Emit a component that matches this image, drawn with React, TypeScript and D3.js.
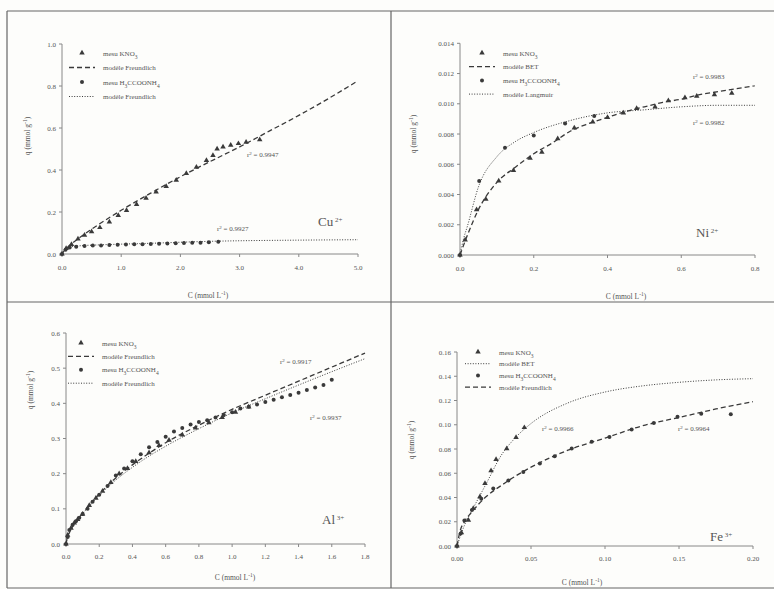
import * as d3 from "d3";
import React from "react";

type Pt = [number, number];

// ---- Cu2+ ----
const cuKno3: Pt[] = [[0,0],[0.07,0.027],[0.16,0.046],[0.27,0.072],[0.38,0.09],[0.5,0.106],[0.64,0.126],[0.8,0.153],[0.95,0.184],[1.09,0.208],[1.26,0.236],[1.42,0.266],[1.59,0.296],[1.76,0.322],[1.93,0.352],[2.1,0.384],[2.27,0.414],[2.44,0.446],[2.55,0.47],[2.62,0.5],[2.72,0.51],[2.85,0.518],[2.98,0.526],[3.11,0.532],[3.34,0.544]];
const cuKno3Model: Pt[] = [[0,0],[0.05,0.02],[0.1,0.034],[0.25,0.068],[0.5,0.118],[1,0.208],[1.5,0.29],[2,0.368],[2.5,0.44],[3,0.51],[3.5,0.585],[4,0.66],[4.5,0.74],[5,0.825]];
const cuAcet: Pt[] = [[0,0],[0.06,0.02],[0.13,0.031],[0.24,0.035],[0.38,0.038],[0.52,0.04],[0.66,0.041],[0.8,0.043],[0.94,0.044],[1.08,0.045],[1.22,0.046],[1.36,0.047],[1.5,0.048],[1.64,0.049],[1.78,0.05],[1.92,0.051],[2.06,0.052],[2.2,0.053],[2.34,0.054],[2.48,0.056],[2.64,0.058]];
const cuAcetModel: Pt[] = [[0,0],[0.05,0.022],[0.15,0.034],[0.3,0.039],[0.6,0.043],[1,0.047],[1.5,0.051],[2,0.056],[2.6,0.061],[3,0.063],[4,0.066],[5,0.068]];
const cuXTicks = [0, 1, 2, 3, 4, 5];
const cuYTicks = [0, 0.2, 0.4, 0.6, 0.8, 1.0];

// ---- Ni2+ ----
const niKno3: Pt[] = [[0,0],[0.014,0.001],[0.045,0.003],[0.07,0.0037],[0.105,0.0049],[0.145,0.0056],[0.19,0.0064],[0.222,0.0068],[0.265,0.0077],[0.31,0.0084],[0.36,0.0088],[0.4,0.0091],[0.443,0.0094],[0.479,0.0097],[0.529,0.0098],[0.565,0.0102],[0.61,0.0104],[0.642,0.0105],[0.69,0.0106],[0.737,0.0107]];
const niKno3Model: Pt[] = [[0,0],[0.02,0.0013],[0.05,0.003],[0.1,0.0048],[0.15,0.0058],[0.2,0.0067],[0.25,0.0074],[0.3,0.0082],[0.35,0.0087],[0.4,0.0091],[0.45,0.0095],[0.5,0.0098],[0.55,0.0101],[0.6,0.0103],[0.65,0.0106],[0.7,0.0108],[0.75,0.011],[0.8,0.0112]];
const niAcet: Pt[] = [[0,0],[0.052,0.0049],[0.122,0.0071],[0.2,0.0079],[0.285,0.0087],[0.364,0.0092]];
const niAcetModel: Pt[] = [[0,0],[0.01,0.0011],[0.02,0.0019],[0.05,0.0045],[0.1,0.0065],[0.15,0.0075],[0.2,0.0081],[0.3,0.0089],[0.4,0.0094],[0.5,0.0096],[0.6,0.0098],[0.7,0.0099],[0.8,0.0099]];
const niXTicks = [0, 0.2, 0.4, 0.6, 0.8];
const niYTicks = [0, 0.002, 0.004, 0.006, 0.008, 0.01, 0.012, 0.014];

// ---- Al3+ ----
const alKno3: Pt[] = [[0,0],[0.01,0.025],[0.03,0.045],[0.05,0.06],[0.07,0.07],[0.1,0.085],[0.14,0.11],[0.18,0.13],[0.22,0.15],[0.27,0.175],[0.32,0.2],[0.37,0.215],[0.42,0.235],[0.5,0.26],[0.56,0.28],[0.62,0.295],[0.7,0.31],[0.78,0.33],[0.86,0.345],[0.94,0.36],[1.02,0.375],[1.1,0.39]];
const alKno3Model: Pt[] = [[0,0],[0.01,0.022],[0.02,0.032],[0.05,0.058],[0.1,0.088],[0.2,0.142],[0.3,0.188],[0.4,0.225],[0.5,0.258],[0.6,0.288],[0.8,0.338],[1,0.383],[1.2,0.423],[1.4,0.463],[1.6,0.503],[1.8,0.543]];
const alAcet: Pt[] = [[0,0],[0.01,0.02],[0.02,0.04],[0.04,0.055],[0.06,0.065],[0.08,0.075],[0.1,0.085],[0.13,0.1],[0.16,0.12],[0.2,0.14],[0.25,0.165],[0.3,0.195],[0.35,0.215],[0.4,0.235],[0.45,0.255],[0.5,0.275],[0.55,0.29],[0.6,0.305],[0.65,0.32],[0.7,0.33],[0.75,0.34],[0.8,0.347],[0.85,0.352],[0.9,0.36],[0.95,0.367],[1.0,0.375],[1.05,0.385],[1.1,0.39],[1.15,0.397],[1.2,0.404],[1.25,0.41],[1.3,0.417],[1.35,0.424],[1.4,0.43],[1.45,0.438],[1.5,0.445],[1.55,0.452],[1.6,0.467]];
const alAcetModel: Pt[] = [[0,0],[0.01,0.022],[0.02,0.032],[0.05,0.057],[0.1,0.086],[0.2,0.138],[0.3,0.182],[0.4,0.218],[0.5,0.25],[0.6,0.278],[0.8,0.328],[1,0.373],[1.2,0.413],[1.4,0.452],[1.6,0.49],[1.8,0.527]];
const alXTicks = [0, 0.2, 0.4, 0.6, 0.8, 1.0, 1.2, 1.4, 1.6, 1.8];
const alYTicks = [0, 0.1, 0.2, 0.3, 0.4, 0.5, 0.6];

// ---- Fe3+ ----
const feKno3: Pt[] = [[0,0],[0.003,0.011],[0.0077,0.0214],[0.011,0.031],[0.0155,0.0407],[0.0189,0.0517],[0.023,0.0621],[0.0264,0.0715],[0.0336,0.0803],[0.0399,0.0896],[0.0455,0.0977]];
const feKno3Model: Pt[] = [[0,0],[0.005,0.017],[0.01,0.029],[0.02,0.052],[0.03,0.075],[0.04,0.09],[0.05,0.101],[0.075,0.118],[0.1,0.127],[0.125,0.132],[0.15,0.135],[0.175,0.137],[0.2,0.138]];
const feAcet: Pt[] = [[0,0],[0.0025,0.0104],[0.005,0.021],[0.0101,0.0296],[0.0164,0.039],[0.0245,0.0475],[0.0347,0.054],[0.0448,0.061],[0.056,0.068],[0.066,0.074],[0.0775,0.0805],[0.091,0.086],[0.103,0.09],[0.118,0.096],[0.133,0.1015],[0.149,0.1065],[0.165,0.109],[0.185,0.1086]];
const feAcetModel: Pt[] = [[0,0],[0.002,0.012],[0.005,0.02],[0.01,0.028],[0.02,0.041],[0.03,0.05],[0.04,0.058],[0.05,0.065],[0.075,0.079],[0.1,0.089],[0.125,0.099],[0.15,0.106],[0.175,0.113],[0.2,0.119]];
const feXTicks = [0, 0.05, 0.1, 0.15, 0.2];
const feYTicks = [0, 0.02, 0.04, 0.06, 0.08, 0.1, 0.12, 0.14, 0.16];

type Kind = "tri" | "circle" | "dash" | "dot";

const FONT = "'Liberation Serif', 'DejaVu Serif', serif";
const INK = "#3a3a3a";
const TXT = "#555";

const kno3 = <tspan>mesu KNO<tspan baselineShift="sub" fontSize={5.5}>3</tspan></tspan>;
const acet = <tspan>mesu H<tspan baselineShift="sub" fontSize={5.5}>3</tspan>CCOONH<tspan baselineShift="sub" fontSize={5.5}>4</tspan></tspan>;

function Marker({ kind, x, y }: { kind: Kind; x: number; y: number }) {
  if (kind === "tri") {
    const p = d3.symbol(d3.symbolTriangle, 13)();
    return <path d={p ?? ""} transform={`translate(${x},${y})`} fill={INK} />;
  }
  return <circle cx={x} cy={y} r={2} fill={INK} />;
}

function Swatch({ kind, x, y }: { kind: Kind; x: number; y: number }) {
  if (kind === "dash" || kind === "dot") {
    return (
      <line x1={x - 13} x2={x + 13} y1={y} y2={y} stroke={INK}
        strokeWidth={kind === "dash" ? 1.3 : 1}
        strokeDasharray={kind === "dash" ? "5,3" : "1,1.6"} />
    );
  }
  return <Marker kind={kind} x={x} y={y} />;
}

interface PanelProps {
  px: [number, number];
  py: [number, number];
  xDomain: [number, number];
  yDomain: [number, number];
  xTicks: number[];
  yTicks: number[];
  xFmt: (v: number) => string;
  yFmt: (v: number) => string;
  series: { pts: Pt[]; kind: Kind }[];
  legend: { label: React.ReactNode; kind: Kind }[];
  legendAt: [number, number, number];
  ion: [string, string, number, number];
  notes: [string, number, number][];
  xTitle: [number, number];
  yTitle: [number, number];
  xLabelDy: number;
}

function Panel(p: PanelProps) {
  const x = d3.scaleLinear().domain(p.xDomain).range(p.px);
  const y = d3.scaleLinear().domain(p.yDomain).range(p.py);
  const line = d3.line<Pt>().x(d => x(d[0])).y(d => y(d[1])).curve(d3.curveMonotoneX);
  const [lx, ly, lg] = p.legendAt;
  return (
    <g fontFamily={FONT} fill={TXT}>
      {/* axes */}
      <line x1={x.range()[0]} x2={x.range()[1]} y1={y(0)} y2={y(0)} stroke="#888" />
      <line x1={x(0)} x2={x(0)} y1={y.range()[0]} y2={y.range()[1]} stroke="#888" />
      {p.yTicks.map(t => (
        <g key={"y" + t}>
          <line x1={x(0) - 3} x2={x(0)} y1={y(t)} y2={y(t)} stroke="#888" />
          <text x={x(0) - 6} y={y(t) + 2.5} fontSize={7} textAnchor="end">{p.yFmt(t)}</text>
        </g>
      ))}
      {p.xTicks.map(t => (
        <g key={"x" + t}>
          <line x1={x(t)} x2={x(t)} y1={y(0)} y2={y(0) + 3} stroke="#888" />
          <text x={x(t)} y={y(0) + p.xLabelDy} fontSize={7} textAnchor="middle">{p.xFmt(t)}</text>
        </g>
      ))}
      <text x={p.xTitle[0]} y={p.xTitle[1]} fontSize={7.5} textAnchor="middle">
        C (mmol L<tspan baselineShift="super" fontSize={5.5}>-1</tspan>)
      </text>
      <text transform={`translate(${p.yTitle[0]},${p.yTitle[1]}) rotate(-90)`} fontSize={7.5} textAnchor="middle">
        q (mmol g<tspan baselineShift="super" fontSize={5.5}>-1</tspan>)
      </text>

      {/* model curves */}
      {p.series.filter(s => s.kind === "dash" || s.kind === "dot").map((s, i) => (
        <path key={"l" + i} d={line(s.pts) ?? ""} fill="none" stroke={INK}
          strokeWidth={s.kind === "dash" ? 1.3 : 1}
          strokeDasharray={s.kind === "dash" ? "5,3" : "1,1.6"} />
      ))}
      {/* measurements */}
      {p.series.filter(s => s.kind === "tri" || s.kind === "circle").map((s, i) => (
        <g key={"m" + i}>
          {s.pts.map((d, j) => <Marker key={j} kind={s.kind} x={x(d[0])} y={y(d[1])} />)}
        </g>
      ))}

      {/* legend */}
      {p.legend.map((e, i) => (
        <g key={"lg" + i}>
          <Swatch kind={e.kind} x={lx} y={ly + i * lg} />
          <text x={lx + 21} y={ly + i * lg + 2.5} fontSize={7}>{e.label}</text>
        </g>
      ))}

      {p.notes.map(([t, nx, ny], i) => (
        <text key={"n" + i} x={nx} y={ny} fontSize={7}>
          r<tspan baselineShift="super" fontSize={5}>2</tspan> = {t}
        </text>
      ))}
      <text x={p.ion[2]} y={p.ion[3]} fontSize={13} fill="#555">
        {p.ion[0]}<tspan baselineShift="super" fontSize={7}>{p.ion[1]}</tspan>
      </text>
    </g>
  );
}

const f1 = d3.format(".1f");
const f2 = d3.format(".2f");
const f3 = d3.format(".3f");

export default function App() {
  return (
    <svg width={774} height={589} style={{ position: "absolute", left: 0, top: 0, background: "#fff" }}>
      <rect width={774} height={589} fill="#fdfdfb" />
      {/* frame */}
      <g stroke="#666" strokeWidth={1.2} fill="none">
        <line x1={7} x2={774} y1={11} y2={11} />
        <line x1={7} x2={7} y1={11} y2={588} />
        <line x1={391} x2={391} y1={11} y2={588} />
        <line x1={7} x2={774} y1={302} y2={302} />
        <line x1={7} x2={774} y1={588} y2={588} />
      </g>

      <Panel
        px={[62, 358]} py={[254, 44]} xDomain={[0, 5]} yDomain={[0, 1]}
        xTicks={cuXTicks} yTicks={cuYTicks} xFmt={f1} yFmt={f1}
        series={[
          { pts: cuKno3Model, kind: "dash" }, { pts: cuAcetModel, kind: "dot" },
          { pts: cuKno3, kind: "tri" }, { pts: cuAcet, kind: "circle" },
        ]}
        legend={[
          { label: kno3, kind: "tri" }, { label: "modèle Freundlich", kind: "dash" },
          { label: acet, kind: "circle" }, { label: "modèle Freundlich", kind: "dot" },
        ]}
        legendAt={[82, 53, 14.5]}
        ion={["Cu", " 2+", 318, 226]}
        notes={[["0.9947", 247, 157], ["0.9927", 217, 231]]}
        xTitle={[208, 298]} yTitle={[30, 136]} xLabelDy={16}
      />

      <Panel
        px={[460, 755]} py={[255, 43.3]} xDomain={[0, 0.8]} yDomain={[0, 0.014]}
        xTicks={niXTicks} yTicks={niYTicks} xFmt={f1} yFmt={f3}
        series={[
          { pts: niKno3Model, kind: "dash" }, { pts: niAcetModel, kind: "dot" },
          { pts: niKno3, kind: "tri" }, { pts: niAcet, kind: "circle" },
        ]}
        legend={[
          { label: kno3, kind: "tri" }, { label: "modèle BET", kind: "dash" },
          { label: acet, kind: "circle" }, { label: "modèle Langmuir", kind: "dot" },
        ]}
        legendAt={[482, 53, 13.7]}
        ion={["Ni", " 2+", 696, 237]}
        notes={[["0.9983", 693, 79], ["0.9982", 693, 125]]}
        xTitle={[626, 299]} yTitle={[416, 134]} xLabelDy={16}
      />

      <Panel
        px={[66, 365]} py={[544, 333]} xDomain={[0, 1.8]} yDomain={[0, 0.6]}
        xTicks={alXTicks} yTicks={alYTicks} xFmt={f1} yFmt={f1}
        series={[
          { pts: alKno3Model, kind: "dash" }, { pts: alAcetModel, kind: "dot" },
          { pts: alKno3, kind: "tri" }, { pts: alAcet, kind: "circle" },
        ]}
        legend={[
          { label: kno3, kind: "tri" }, { label: "modèle Freundlich", kind: "dash" },
          { label: acet, kind: "circle" }, { label: "modèle Freundlich", kind: "dot" },
        ]}
        legendAt={[81, 343, 13.4]}
        ion={["Al", " 3+", 322, 524]}
        notes={[["0.9917", 280, 364], ["0.9937", 310, 420]]}
        xTitle={[235, 580]} yTitle={[33, 390]} xLabelDy={15}
      />

      <Panel
        px={[457, 753]} py={[546, 352]} xDomain={[0, 0.2]} yDomain={[0, 0.16]}
        xTicks={feXTicks} yTicks={feYTicks} xFmt={f2} yFmt={f2}
        series={[
          { pts: feKno3Model, kind: "dot" }, { pts: feAcetModel, kind: "dash" },
          { pts: feKno3, kind: "tri" }, { pts: feAcet, kind: "circle" },
        ]}
        legend={[
          { label: kno3, kind: "tri" }, { label: "modèle BET", kind: "dot" },
          { label: acet, kind: "circle" }, { label: "modèle Freundlich", kind: "dash" },
        ]}
        legendAt={[478, 352, 11.7]}
        ion={["Fe", " 3+", 710, 541]}
        notes={[["0.9966", 542, 431], ["0.9964", 678, 431]]}
        xTitle={[582, 585]} yTitle={[414, 440]} xLabelDy={15}
      />
    </svg>
  );
}
